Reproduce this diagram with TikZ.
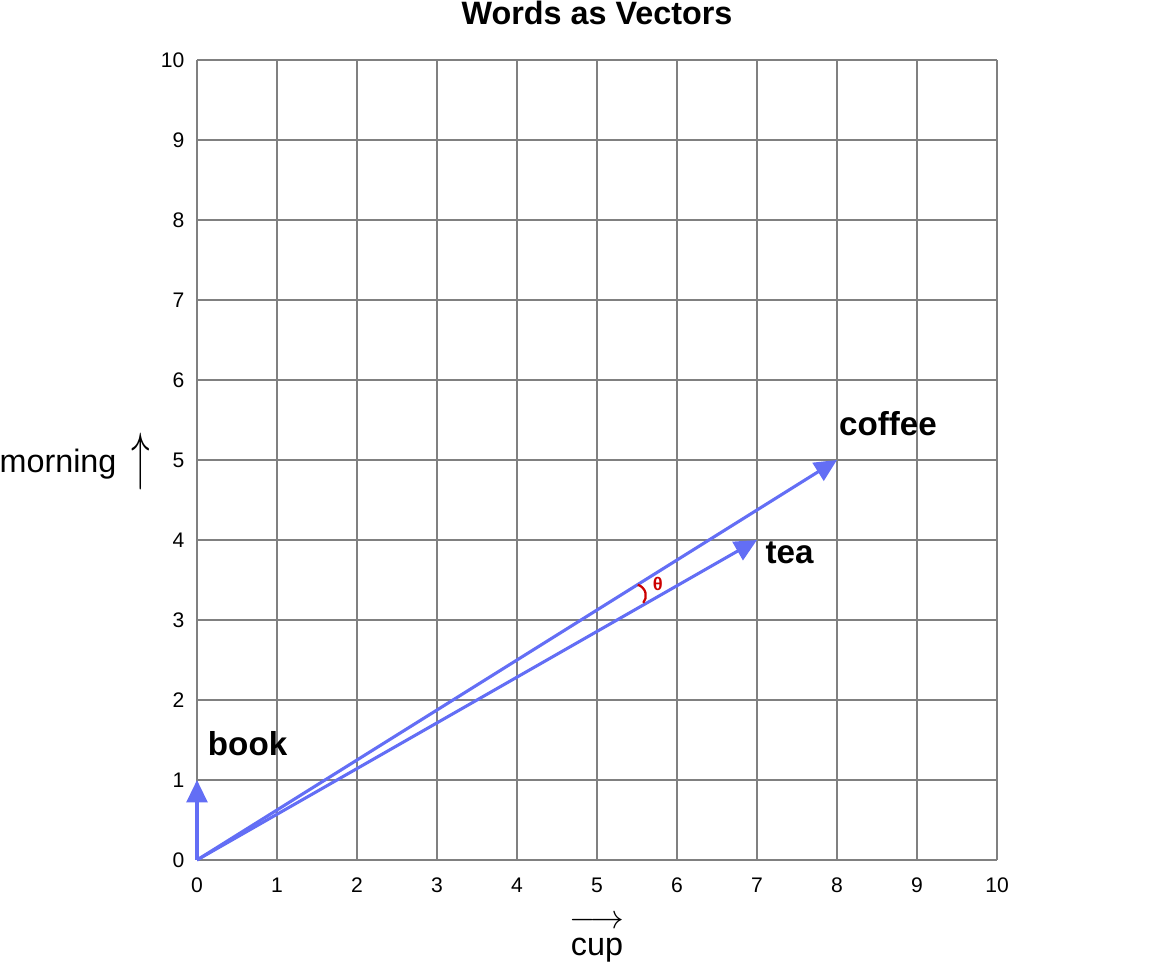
\documentclass[tikz,border=0pt]{standalone}
\usepackage{fontspec}
\setmainfont{Liberation Sans}
\usepackage{graphicx}
\usetikzlibrary{arrows.meta}

\definecolor{vecblue}{RGB}{99,110,245}
\definecolor{thetared}{RGB}{204,0,0}

\tikzset{
  gridline/.style={draw=black!50, line width=0.7pt},
  vec/.style={draw=vecblue, line width=1.1pt, -{Triangle[length=0.28cm,width=0.26cm]}},
  tick/.style={font=\fontsize{7.5}{9}\selectfont, inner sep=0pt},
  word/.style={font=\fontsize{11.8}{14}\selectfont\bfseries, inner sep=0pt, anchor=base west},
  axislabel/.style={font=\fontsize{11.5}{14}\selectfont, inner sep=0pt}
}

\begin{document}
\begin{tikzpicture}
  \useasboundingbox (-2.4625,-1.325) rectangle (12.0375,10.75);
  % grid
  \draw[gridline] (0,0) grid (10,10);
  % x ticks
  \node[tick] (x0) at (0,-0.32) {0};
  \node[tick] (x1) at (1,-0.32) {1};
  \node[tick] (x2) at (2,-0.32) {2};
  \node[tick] (x3) at (3,-0.32) {3};
  \node[tick] (x4) at (4,-0.32) {4};
  \node[tick] (x5) at (5,-0.32) {5};
  \node[tick] (x6) at (6,-0.32) {6};
  \node[tick] (x7) at (7,-0.32) {7};
  \node[tick] (x8) at (8,-0.32) {8};
  \node[tick] (x9) at (9,-0.32) {9};
  \node[tick] (x10) at (10,-0.32) {10};
  % y ticks
  \node[tick, anchor=east] (y0) at (-0.15,0) {0};
  \node[tick, anchor=east] (y1) at (-0.15,1) {1};
  \node[tick, anchor=east] (y2) at (-0.15,2) {2};
  \node[tick, anchor=east] (y3) at (-0.15,3) {3};
  \node[tick, anchor=east] (y4) at (-0.15,4) {4};
  \node[tick, anchor=east] (y5) at (-0.15,5) {5};
  \node[tick, anchor=east] (y6) at (-0.15,6) {6};
  \node[tick, anchor=east] (y7) at (-0.15,7) {7};
  \node[tick, anchor=east] (y8) at (-0.15,8) {8};
  \node[tick, anchor=east] (y9) at (-0.15,9) {9};
  \node[tick, anchor=east] (y10) at (-0.15,10) {10};
  % axis labels and title
  \node[font=\fontsize{11.5}{14}\selectfont\bfseries, inner sep=0pt, anchor=base] (title) at (5,10.44) {Words as Vectors};
  \node[axislabel, anchor=base east] (morning) at (-1.0,4.84) {morning};
  \node[axislabel, anchor=east] (morningarrow) at (-0.58,4.98) {\scalebox{1.1}[1.9]{$\uparrow$}};
  \node[axislabel, anchor=base] (cuparrow) at (5,-0.86) {$\longrightarrow$};
  \node[axislabel, anchor=base] (cup) at (5,-1.19) {cup};
  % vectors
  \coordinate (O) at (0,0);
  \coordinate (coffee) at (8,5);
  \coordinate (tea) at (7,4);
  \coordinate (book) at (0,1);
  \draw[vec] (O) -- (coffee);
  \draw[vec] (O) -- (tea);
  \draw[vec] (O) -- (book);
  % angle between coffee and tea
  \draw[thetared, line width=0.8pt] (5.51,3.44) arc[start angle=73, end angle=-39, radius=0.142];
  \node[text=thetared, font=\fontsize{6.5}{8}\selectfont\bfseries, inner sep=0pt] (theta) at (5.76,3.45) {θ};
  % word labels
  \node[word] (coffeelabel) at (8.02,5.31) {coffee};
  \node[word] (tealabel) at (7.1,3.7) {tea};
  \node[word] (booklabel) at (0.13,1.31) {book};
\end{tikzpicture}
\end{document}
